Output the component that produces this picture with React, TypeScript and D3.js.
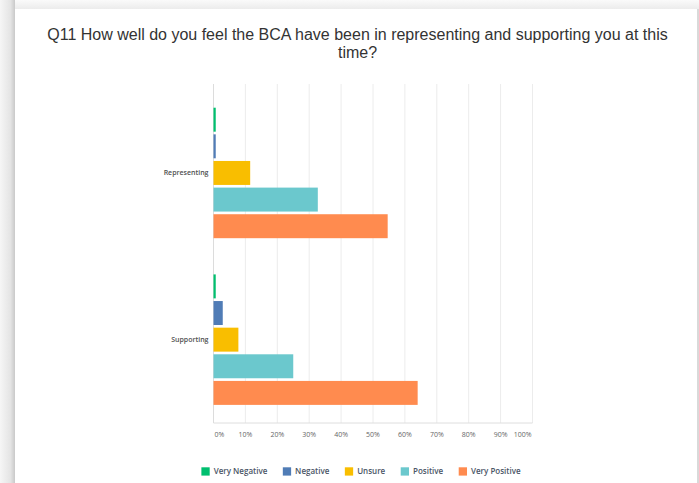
import React from "react";
import * as d3 from "d3";

const categories = ["Representing", "Supporting"];
const seriesNames = ["Very Negative", "Negative", "Unsure", "Positive", "Very Positive"];
const seriesColors = ["#00BF6F", "#507CB6", "#F9BE00", "#6BC8CD", "#FF8B4F"];
const representingValues = [0.7, 0.7, 11.5, 32.7, 54.6];
const supportingValues = [0.7, 2.9, 7.8, 25.0, 64.0];
const xTicks = [0, 10, 20, 30, 40, 50, 60, 70, 80, 90, 100];
const titleLines = [
  "Q11 How well do you feel the BCA have been in representing and supporting you at this",
  "time?",
];

const W = 699;
const H = 483;
const plot = { left: 213.5, right: 532.5, top: 84, bottom: 423 };

function measure(text: string, font: string): number {
  const c = document.createElement("canvas");
  const ctx = c.getContext("2d");
  if (!ctx) return text.length * 4;
  ctx.font = font;
  return ctx.measureText(text).width;
}

export default function App() {
  const x = d3.scaleLinear().domain([0, 100]).range([plot.left, plot.right]);
  const y0 = d3.scaleBand<string>().domain(categories).range([89.6, plot.bottom]).padding(0);
  const y1 = d3
    .scaleBand<string>()
    .domain(seriesNames)
    .range([0, y0.bandwidth()])
    .paddingInner(0.1)
    .paddingOuter(0.68);

  const valuesByCat: Record<string, number[]> = {
    Representing: representingValues,
    Supporting: supportingValues,
  };

  const legendFont = "600 8px 'Open Sans'";
  const sq = 8.3;
  const gapText = 4;
  const gapItem = 15.5;
  const widths = seriesNames.map((s) => measure(s, legendFont));
  const total =
    widths.reduce((a, b) => a + b, 0) + seriesNames.length * (sq + gapText) + gapItem * (seriesNames.length - 1);
  let lx = 361 - total / 2;
  const legendItems = seriesNames.map((s, i) => {
    const item = { name: s, color: seriesColors[i], x: lx };
    lx += sq + gapText + widths[i] + gapItem;
    return item;
  });

  return (
    <svg
      width={W}
      height={H}
      style={{ position: "absolute", left: 0, top: 0, display: "block" }}
      fontFamily="'Open Sans', sans-serif"
    >
      <defs>
        <linearGradient id="shadowL" x1="0" x2="1" y1="0" y2="0">
          <stop offset="0" stopColor="#f6f6f6" />
          <stop offset="0.7" stopColor="#e4e4e4" />
          <stop offset="1" stopColor="#c9c9c9" />
        </linearGradient>
        <linearGradient id="shadowT" x1="0" x2="0" y1="0" y2="1">
          <stop offset="0" stopColor="#fafafa" />
          <stop offset="1" stopColor="#ececec" />
        </linearGradient>
      </defs>
      <rect x={0} y={0} width={W} height={H} fill="#f7f7f7" />
      <rect x={0} y={0} width={W} height={9} fill="url(#shadowT)" />
      <rect x={0} y={0} width={15} height={H} fill="url(#shadowL)" />
      <rect x={15} y={9} width={682} height={H - 9} fill="#ffffff" />
      <rect x={697} y={9} width={2} height={H - 9} fill="#d9d9d9" />

      {titleLines.map((t, i) => (
        <text
          key={i}
          x={357.5}
          y={39.5 + i * 18}
          textAnchor="middle"
          fontFamily="'Liberation Sans', Arial, sans-serif"
          fontSize={16}
          fill="#333333"
        >
          {t}
        </text>
      ))}

      {xTicks.map((t) => (
        <line
          key={t}
          x1={x(t)}
          x2={x(t)}
          y1={plot.top}
          y2={plot.bottom}
          stroke={t === 0 ? "#dcdcdc" : "#ececec"}
          strokeWidth={1}
        />
      ))}
      <line x1={plot.left} x2={plot.right} y1={plot.bottom} y2={plot.bottom} stroke="#dedede" strokeWidth={1} />

      {categories.map((c) => (
        <g key={c} transform={`translate(0,${y0(c)})`}>
          {valuesByCat[c].map((v, i) => (
            <rect
              key={seriesNames[i]}
              x={x(0)}
              y={y1(seriesNames[i])}
              width={x(v) - x(0)}
              height={y1.bandwidth()}
              fill={seriesColors[i]}
            />
          ))}
          <text
            x={plot.left - 5}
            y={y0.bandwidth() / 2 - 0.5}
            dy="0.35em"
            textAnchor="end"
            fontSize={7}
            fontWeight={600}
            fill="#505050"
          >
            {c}
          </text>
        </g>
      ))}

      {xTicks.map((t, i) => (
        <text
          key={t}
          x={i === 0 ? x(t) + 1 : i === xTicks.length - 1 ? x(t) - 1 : x(t)}
          y={437}
          textAnchor={i === 0 ? "start" : i === xTicks.length - 1 ? "end" : "middle"}
          fontSize={7}
          fill="#666666"
        >
          {t}%
        </text>
      ))}

      {legendItems.map((it) => (
        <g key={it.name}>
          <rect x={it.x} y={467.3} width={sq} height={sq} fill={it.color} />
          <text
            x={it.x + sq + gapText}
            y={471.5}
            dy="0.35em"
            fontSize={8}
            fontWeight={600}
            fill="#4a5566"
          >
            {it.name}
          </text>
        </g>
      ))}
    </svg>
  );
}
